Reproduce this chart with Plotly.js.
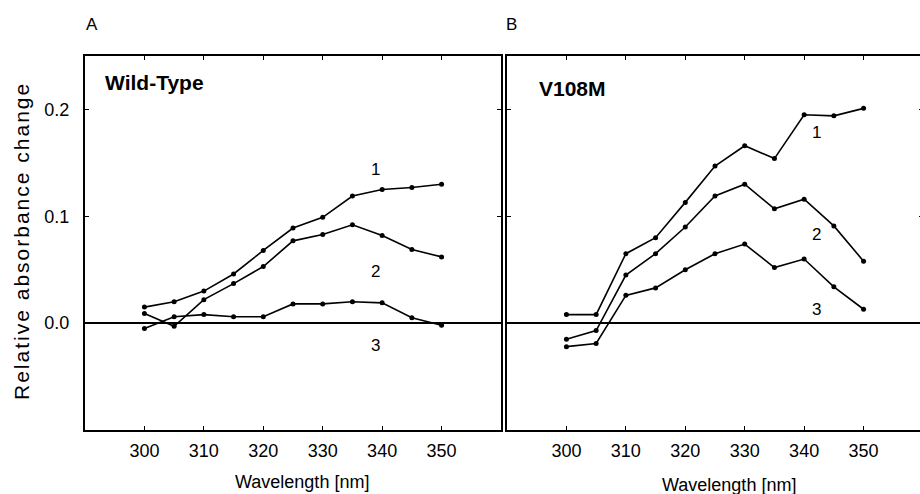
<!DOCTYPE html>
<html>
<head>
<meta charset="utf-8">
<script src="https://cdn.plot.ly/plotly-3.0.1.min.js"></script>
<style>
  html, body { margin: 0; padding: 0; overflow: hidden; background: #fff; }
  #chart { width: 926px; height: 494px; }
</style>
</head>
<body>
<div id="chart"></div>
<script>
// ---- data ----
const wavelength = [300, 305, 310, 315, 320, 325, 330, 335, 340, 345, 350];

const wildType1 = [0.015, 0.020, 0.030, 0.046, 0.068, 0.089, 0.099, 0.119, 0.125, 0.127, 0.130];
const wildType2 = [0.009, -0.003, 0.022, 0.037, 0.053, 0.077, 0.083, 0.092, 0.082, 0.069, 0.062];
const wildType3 = [-0.005, 0.006, 0.008, 0.006, 0.006, 0.018, 0.018, 0.020, 0.019, 0.005, -0.002];

const v108m1 = [0.008, 0.008, 0.065, 0.080, 0.113, 0.147, 0.166, 0.154, 0.195, 0.194, 0.201];
const v108m2 = [-0.015, -0.007, 0.045, 0.065, 0.090, 0.119, 0.130, 0.107, 0.116, 0.091, 0.058];
const v108m3 = [-0.022, -0.019, 0.026, 0.033, 0.050, 0.065, 0.074, 0.052, 0.060, 0.034, 0.013];

const curveLabels = ["1", "2", "3"];
const panelLetters = ["A", "B"];
const panelNames = ["Wild-Type", "V108M"];
const xTickVals = [300, 310, 320, 330, 340, 350];
const yTickVals = [0, 0.1, 0.2];
const yTickText = ["0.0", "0.1", "0.2"];
const xTitle = "Wavelength [nm]";
const yTitle = "Relative absorbance change";

// ---- plot ----
const W = 926, H = 494;
const px = v => v / W;
const py = v => 1 - v / H;
const FONT = "Liberation Sans, Arial, Helvetica, sans-serif";

function series(y, xa, ya) {
  return {
    x: wavelength, y: y, xaxis: xa, yaxis: ya,
    type: "scatter", mode: "lines+markers",
    line: { color: "#000", width: 1.6 },
    marker: { color: "#000", size: 5 },
    hoverinfo: "skip", showlegend: false
  };
}

const traces = [
  series(wildType1, "x", "y"), series(wildType2, "x", "y"), series(wildType3, "x", "y"),
  series(v108m1, "x2", "y2"), series(v108m2, "x2", "y2"), series(v108m3, "x2", "y2")
];

const xBase = {
  range: [290, 360], showgrid: false, zeroline: false,
  showline: true, linecolor: "#000", linewidth: 2, mirror: "ticks",
  ticks: "inside", ticklen: 4, tickwidth: 1.2, tickcolor: "#000",
  tickvals: xTickVals, tickfont: { family: FONT, size: 18, color: "#000" },
  ticklabelstandoff: 3, fixedrange: true
};
const yBase = {
  range: [-0.1, 0.25], showgrid: false,
  zeroline: true, zerolinecolor: "#000", zerolinewidth: 1.5,
  showline: true, linecolor: "#000", linewidth: 2, mirror: "ticks",
  ticks: "inside", ticklen: 4, tickwidth: 1.2, tickcolor: "#000",
  tickvals: yTickVals, ticktext: yTickText,
  tickfont: { family: FONT, size: 18, color: "#000" },
  ticklabelstandoff: 10, fixedrange: true
};

const yDom = [py(430), py(56)];

const annTxt = (text, x, y, xref, yref, size, bold, extra) => Object.assign({
  text: bold ? "<b>" + text + "</b>" : text, x: x, y: y, xref: xref, yref: yref,
  showarrow: false, xanchor: "center", yanchor: "middle",
  font: { family: FONT, size: size, color: "#000" }
}, extra || {});

const layout = {
  width: W, height: H,
  margin: { l: 0, r: 0, t: 0, b: 0 },
  paper_bgcolor: "#fff", plot_bgcolor: "#fff",
  font: { family: FONT, color: "#000" },
  showlegend: false,
  xaxis: Object.assign({}, xBase, { domain: [px(85), px(501)], anchor: "y" }),
  yaxis: Object.assign({}, yBase, { domain: yDom, anchor: "x" }),
  xaxis2: Object.assign({}, xBase, { domain: [px(507), px(923)], anchor: "y2" }),
  yaxis2: Object.assign({}, yBase, { domain: yDom, anchor: "x2", showticklabels: false }),
  annotations: [
    annTxt(panelLetters[0], px(92), py(24), "paper", "paper", 17, false),
    annTxt(panelLetters[1], px(511), py(24), "paper", "paper", 17, false),
    annTxt(panelNames[0], px(103), py(83), "paper", "paper", 21, true, { xanchor: "left" }),
    annTxt(panelNames[1], px(537), py(88), "paper", "paper", 21, true, { xanchor: "left" }),
    annTxt(xTitle, px(302), py(482), "paper", "paper", 18, false),
    annTxt(xTitle, px(729), py(485), "paper", "paper", 18, false),
    annTxt(yTitle, px(21), py(241), "paper", "paper", 21, false, { textangle: -90 }),
    annTxt(curveLabels[0], 338.8, 0.144, "x", "y", 17, false),
    annTxt(curveLabels[1], 338.8, 0.0486, "x", "y", 17, false),
    annTxt(curveLabels[2], 338.8, -0.0206, "x", "y", 17, false),
    annTxt(curveLabels[0], 342, 0.178, "x2", "y2", 17, false),
    annTxt(curveLabels[1], 342, 0.0826, "x2", "y2", 17, false),
    annTxt(curveLabels[2], 342, 0.013, "x2", "y2", 17, false)
  ]
};

Plotly.newPlot("chart", traces, layout, { staticPlot: true, displayModeBar: false }).then(() => {
  document.querySelectorAll("#chart .annotation-text").forEach(el => {
    if (el.textContent === yTitle) el.style.letterSpacing = "2px";
  });
});
</script>
</body>
</html>
